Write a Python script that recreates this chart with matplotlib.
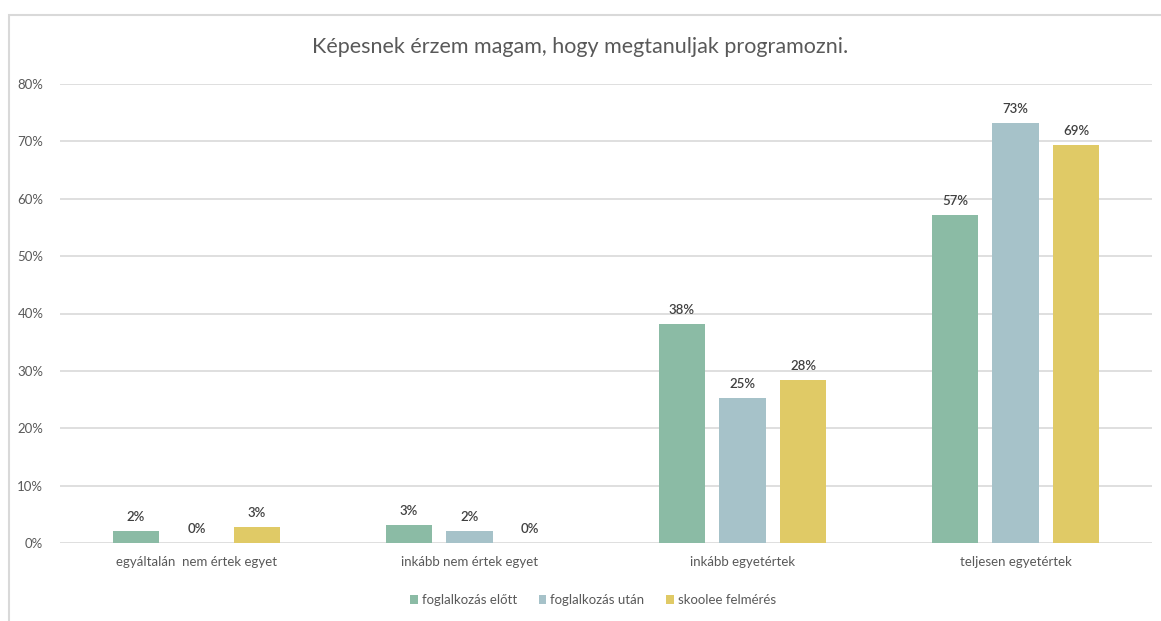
import matplotlib
matplotlib.use("Agg")
import matplotlib.pyplot as plt
import numpy as np
from matplotlib.patches import Rectangle

plt.rcParams['font.family'] = ['Lato', 'DejaVu Sans']

title = "Képesnek érzem magam, hogy megtanuljak programozni."
categories = ["egyáltalán  nem értek egyet", "inkább nem értek egyet",
              "inkább egyetértek", "teljesen egyetértek"]
series_names = ["foglalkozás előtt", "foglalkozás után", "skoolee felmérés"]
before = [0.021, 0.031, 0.381, 0.571]
after = [0.0, 0.021, 0.252, 0.732]
skoolee = [0.028, 0.0, 0.284, 0.693]
yticks = [0, 0.1, 0.2, 0.3, 0.4, 0.5, 0.6, 0.7, 0.8]

colors = ["#8BBBA5", "#A6C2C9", "#E0CA66"]
text_col = "#595959"

fig = plt.figure(figsize=(11.61, 6.21), dpi=100)
fig.patch.set_facecolor("white")
# chart frame
fig.add_artist(Rectangle((8.5 / 1161, -0.05), 1.2, (621 - 14.5) / 621 + 0.05,
                         transform=fig.transFigure, fill=False,
                         edgecolor="#d9d9d9", linewidth=1.5))

ax = fig.add_axes([60 / 1161, (621 - 543) / 621, (1152 - 60) / 1161, (543 - 84) / 621])
x = np.arange(len(categories))
width = 0.172
step = 0.2216
for i, (vals, name) in enumerate(zip([before, after, skoolee], series_names)):
    pos = x + (i - 1) * step
    ax.bar(pos, vals, width, color=colors[i], label=name, zorder=3)
    for xp, v in zip(pos, vals):
        ax.text(xp, v + 0.014, f"{round(v * 100):.0f}%", ha="center", va="bottom",
                fontsize=9.5, color="#404040", fontweight="semibold")

ax.set_xlim(-0.5, len(categories) - 0.5)
ax.set_ylim(0, 0.8)
ax.set_yticks(yticks)
ax.set_yticklabels([f"{int(round(t * 100))}%" for t in yticks])
ax.set_xticks(x)
ax.set_xticklabels(categories)
ax.grid(axis="y", color="#d9d9d9", linewidth=1.2, zorder=0)
for s in ax.spines.values():
    s.set_visible(False)
ax.tick_params(axis="both", length=0, colors=text_col, labelsize=9.5)
ax.tick_params(axis="y", pad=12)
ax.tick_params(axis="x", pad=9)

fig.text(0.5, (621 - 47) / 621, title, ha="center", va="center",
         fontsize=15.5, color=text_col)

fig.legend(loc="center", bbox_to_anchor=(593 / 1161, (621 - 600) / 621), ncol=3,
           frameon=False, fontsize=9.5, handlelength=0.6, handleheight=0.6,
           handletextpad=0.3, columnspacing=1.6, labelcolor=text_col)

fig.savefig("out.png", dpi=100, facecolor="white")
